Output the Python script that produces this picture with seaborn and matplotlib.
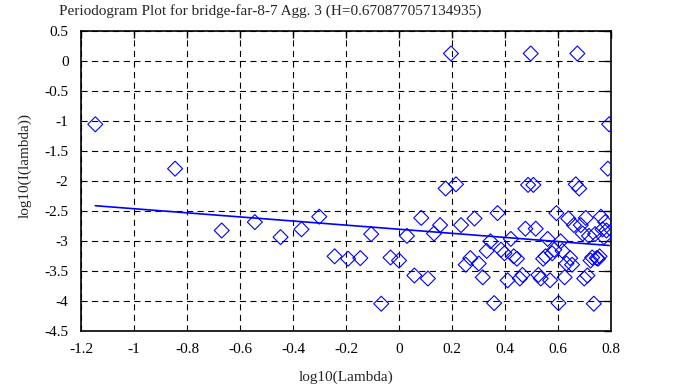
import pandas as pd
import matplotlib
matplotlib.use("Agg")
import matplotlib.pyplot as plt
import seaborn as sns

sns.set_style("white")
plt.rcParams['font.family'] = ['Liberation Serif', 'DejaVu Serif']

title = "Periodogram Plot for bridge-far-8-7 Agg. 3 (H=0.670877057134935)"

# log10 of frequency, one value per periodogram ordinate
log_lambda = [
    -1.146, -0.845, -0.669, -0.544, -0.447, -0.368, -0.301, -0.243, -0.192, -0.146,
    -0.105, -0.067, -0.032, 0.000, 0.030, 0.058, 0.084, 0.109, 0.132, 0.155,
    0.176, 0.196, 0.215, 0.234, 0.252, 0.269, 0.285, 0.301, 0.316, 0.331,
    0.345, 0.359, 0.372, 0.385, 0.398, 0.410, 0.422, 0.433, 0.445, 0.456,
    0.466, 0.477, 0.487, 0.497, 0.507, 0.516, 0.526, 0.535, 0.544, 0.553,
    0.561, 0.570, 0.578, 0.586, 0.594, 0.602, 0.610, 0.617, 0.625, 0.632,
    0.639, 0.646, 0.653, 0.660, 0.667, 0.673, 0.680, 0.686, 0.693, 0.699,
    0.705, 0.711, 0.717, 0.723, 0.729, 0.735, 0.740, 0.746, 0.751, 0.757,
    0.762, 0.768, 0.773, 0.778, 0.783, 0.788, 0.793,
]

# log10 of periodogram value
log_I = [
    -1.06, -1.80, -2.83, -2.69, -2.94, -2.81, -2.60, -3.26, -3.30, -3.29,
    -2.89, -4.05, -3.28, -3.33, -2.92, -3.58, -2.62, -3.63, -2.88, -2.74,
    -2.13, 0.12, -2.06, -2.74, -3.40, -3.29, -2.63, -3.38, -3.61, -3.17,
    -3.01, -4.04, -2.54, -3.15, -3.21, -3.66, -2.97, -3.26, -3.30, -3.63,
    -3.57, -2.80, -2.07, 0.12, -2.07, -2.80, -3.57, -3.63, -3.30, -3.26,
    -2.97, -3.66, -3.21, -3.15, -2.54, -4.04, -3.01, -3.17, -3.61, -3.38,
    -2.63, -3.29, -3.40, -2.74, -2.06, 0.12, -2.13, -2.74, -2.88, -3.63,
    -2.62, -3.58, -2.92, -3.33, -3.28, -4.05, -2.89, -3.29, -3.30, -3.26,
    -2.60, -2.81, -2.94, -2.69, -2.83, -1.80, -1.06,
]

# least squares fit line, end points
fit_x = [-1.146, 0.793]
fit_y = [-2.417, -3.080]

df = pd.DataFrame({'x': log_lambda, 'y': log_I})
fit = pd.DataFrame({'x': fit_x, 'y': fit_y})

fig = plt.figure(figsize=(6.73, 3.87), dpi=100)
ax = fig.add_axes([81 / 673, 1 - 330.7 / 387, 530 / 673, 300 / 387])

sns.scatterplot(data=df, x='x', y='y', marker='D', s=58, facecolors='none',
                edgecolor='#0000ff', linewidth=0.8, ax=ax, zorder=3)
sns.lineplot(data=fit, x='x', y='y', color='#0000ff', linewidth=1.2, ax=ax, zorder=4)

ax.set_xlim(-1.2, 0.8)
ax.set_ylim(-4.5, 0.5)
ax.set_xticks([-1.2, -1, -0.8, -0.6, -0.4, -0.2, 0, 0.2, 0.4, 0.6, 0.8])
ax.set_xticklabels(['-1.2', '-1', '-0.8', '-0.6', '-0.4', '-0.2', '0', '0.2', '0.4', '0.6', '0.8'])
ax.set_yticks([0.5, 0, -0.5, -1, -1.5, -2, -2.5, -3, -3.5, -4, -4.5])
ax.set_yticklabels(['0.5', '0', '-0.5', '-1', '-1.5', '-2', '-2.5', '-3', '-3.5', '-4', '-4.5'])
ax.grid(True, color='black', linestyle=(0, (5.5, 4)), linewidth=0.8)
ax.tick_params(direction='in', length=5, width=1, top=True, right=True,
               labelsize=11, pad=9, colors='black')
for s in ax.spines.values():
    s.set_color('black')
    s.set_linewidth(1.2)
ax.set_xlabel('')
ax.set_ylabel('')

fig.text(270 / 673, 1 - 11 / 387, title, ha='center', va='center', fontsize=11)
fig.text(346 / 673, 1 - 377 / 387, 'log10(Lambda)', ha='center', va='center', fontsize=11)
fig.text(25 / 673, 1 - 165 / 387, 'log10(I(lambda))', ha='center', va='center',
         rotation=90, fontsize=11)

fig.savefig('out.png', dpi=100)
